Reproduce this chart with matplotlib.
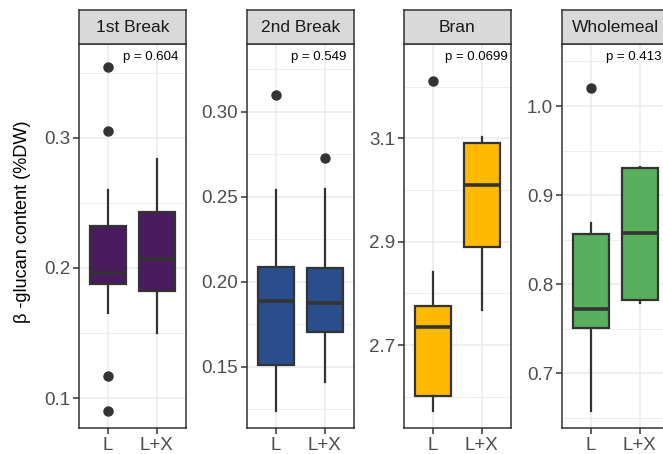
import matplotlib
matplotlib.use("Agg")
import matplotlib.pyplot as plt

plt.rcParams['font.family'] = ['Liberation Sans', 'DejaVu Sans']

# facets and groups
panels = ['1st Break', '2nd Break', 'Bran', 'Wholemeal']
groups = ['L', 'L+X']
p_values = ['p = 0.604', 'p = 0.549', 'p = 0.0699', 'p = 0.413']
fills = ['#4a1b5e', '#2a4e8c', '#ffb900', '#58b05c']

# box stats per panel, [L, L+X]
whislo = [[0.165, 0.150], [0.124, 0.141], [2.573, 2.768], [0.658, 0.779]]
q1 = [[0.188, 0.1825], [0.1508, 0.1704], [2.601, 2.889], [0.7505, 0.782]]
med = [[0.1964, 0.2067], [0.1884, 0.1873], [2.734, 3.0096], [0.7718, 0.857]]
q3 = [[0.232, 0.2433], [0.2085, 0.2081], [2.7755, 3.0916], [0.8559, 0.930]]
whishi = [[0.260, 0.2838], [0.2537, 0.2547], [2.8408, 3.102], [0.8689, 0.931]]
fliers = [[[0.354, 0.305, 0.117, 0.090], []],
          [[0.3098], [0.2729]],
          [[3.2115], []],
          [[1.0199], []]]

# axis scales
ylims = [(0.077, 0.372), (0.114, 0.3398), (2.5394, 3.2825), (0.6386, 1.0696)]
major_ticks = [[0.1, 0.2, 0.3], [0.15, 0.20, 0.25, 0.30], [2.7, 2.9, 3.1], [0.7, 0.8, 0.9, 1.0]]
tick_labels = [['0.1', '0.2', '0.3'], ['0.15', '0.20', '0.25', '0.30'],
               ['2.7', '2.9', '3.1'], ['0.7', '0.8', '0.9', '1.0']]
minor_ticks = [[0.15, 0.25, 0.35], [0.125, 0.175, 0.225, 0.275, 0.325],
               [2.6, 2.8, 3.0, 3.2], [0.65, 0.75, 0.85, 0.95, 1.05]]

W, H = 663, 454
fig = plt.figure(figsize=(W / 100, H / 100), dpi=100)

lefts = [79, 247, 404, 562]
pw = 107
top, bottom = 44, 428
strip_top = 10
dark = '#333333'

for i, name in enumerate(panels):
    ax = fig.add_axes([lefts[i] / W, (H - bottom) / H, pw / W, (bottom - top) / H])
    stats = []
    for j, g in enumerate(groups):
        stats.append(dict(label=g, whislo=whislo[i][j], q1=q1[i][j], med=med[i][j],
                          q3=q3[i][j], whishi=whishi[i][j], fliers=fliers[i][j]))
    ax.bxp(stats, positions=[1, 2], widths=0.75, patch_artist=True, showcaps=False,
           boxprops=dict(facecolor=fills[i], edgecolor=dark, linewidth=1.6),
           medianprops=dict(color=dark, linewidth=2.6),
           whiskerprops=dict(color=dark, linewidth=1.6),
           flierprops=dict(marker='o', markerfacecolor=dark, markeredgecolor=dark,
                           markersize=6.5))
    ax.set_xlim(0.4, 2.6)
    ax.set_ylim(*ylims[i])
    ax.set_yticks(major_ticks[i])
    ax.set_yticklabels(tick_labels[i])
    ax.set_yticks(minor_ticks[i], minor=True)
    ax.set_xticks([1, 2])
    ax.set_xticklabels(groups)
    ax.set_axisbelow(True)
    ax.grid(True, which='major', color='#ebebeb', linewidth=1.1)
    ax.grid(True, which='minor', axis='y', color='#ebebeb', linewidth=0.6)
    ax.tick_params(which='major', length=4.2, width=1.1, color=dark,
                   labelsize=13.5, labelcolor='#4d4d4d', pad=2.2)
    ax.tick_params(which='minor', length=0)
    for s in ax.spines.values():
        s.set_color(dark)
        s.set_linewidth(1.1)
    # p value label: x in data, y in axes fraction
    ax.text(1.88, 1 - 13 / (bottom - top), p_values[i], transform=ax.get_xaxis_transform(),
            ha='center', va='center', fontsize=9.5, color='black')

    # facet strip
    sx = fig.add_axes([lefts[i] / W, (H - top) / H, pw / W, (top - strip_top) / H])
    sx.set_facecolor('#d9d9d9')
    sx.set_xticks([])
    sx.set_yticks([])
    for s in sx.spines.values():
        s.set_color(dark)
        s.set_linewidth(1.1)
    sx.text(0.5, 0.5, name, ha='center', va='center', fontsize=12.5, color='#1a1a1a',
            transform=sx.transAxes)

fig.text(23 / W, 1 - 222 / H, 'β -glucan content (%DW)', rotation=90,
         ha='center', va='center', fontsize=13.1, color='black')

fig.savefig('out.png', dpi=100)
